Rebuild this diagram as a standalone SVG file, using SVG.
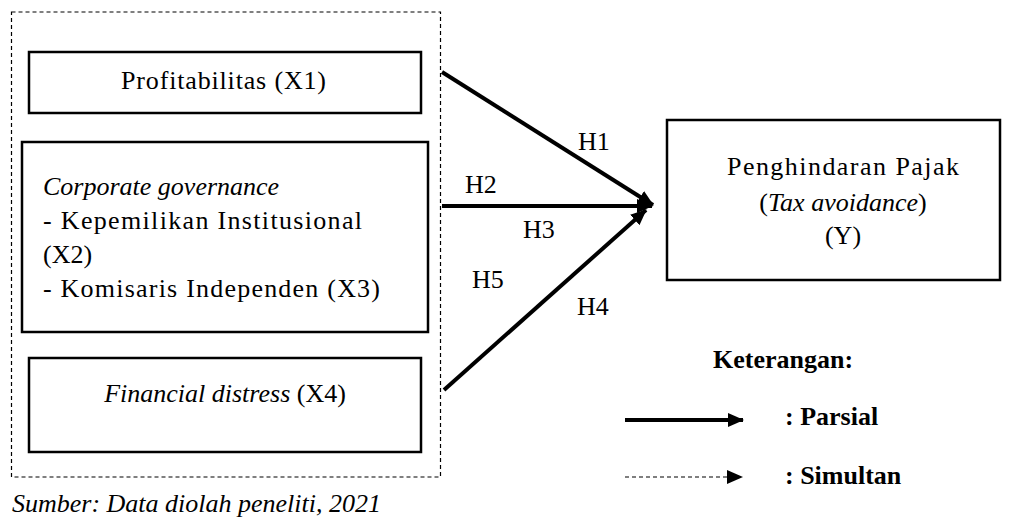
<svg xmlns="http://www.w3.org/2000/svg" width="1010" height="518" viewBox="0 0 1010 518">
<style>
text{font-family:"Liberation Serif","DejaVu Serif","Times New Roman",serif;font-size:26px;fill:#000}
.it{font-style:italic}
.b{font-weight:bold}
.box{fill:#fff;stroke:#000;stroke-width:2.5}
.arr{stroke:#000;stroke-width:4;fill:none}
.dash{stroke:#000;stroke-width:1.2;fill:none;stroke-dasharray:4 3}
</style>
<defs>
<marker id="ah" viewBox="0 0 16 14" refX="15" refY="7" markerWidth="16" markerHeight="14" markerUnits="userSpaceOnUse" orient="auto">
<path d="M0,0 L16,7 L0,14 z" fill="#000"/>
</marker>
</defs>
<rect id="outer" class="dash" x="11.5" y="12" width="429" height="465"/>
<g id="connectors">
<line class="arr" x1="442" y1="72" x2="653" y2="205" marker-end="url(#ah)"/>
<line class="arr" x1="442" y1="206" x2="652" y2="206" marker-end="url(#ah)"/>
<line class="arr" x1="444" y1="390" x2="646" y2="210" marker-end="url(#ah)"/>
<text x="578" y="150">H1</text>
<text x="465" y="193">H2</text>
<text x="523" y="238">H3</text>
<text x="472" y="288">H5</text>
<text x="577" y="315">H4</text>
</g>
<g id="x1">
<rect class="box" x="29" y="52" width="392" height="61"/>
<text x="121" y="89" textLength="205" lengthAdjust="spacing">Profitabilitas (X1)</text>
</g>
<g id="x2x3">
<rect class="box" x="22" y="142" width="406" height="190"/>
<text class="it" x="43" y="195">Corporate governance</text>
<text x="43" y="229" textLength="319" lengthAdjust="spacing">- Kepemilikan Institusional</text>
<text x="43" y="263">(X2)</text>
<text x="43" y="297" textLength="337" lengthAdjust="spacing">- Komisaris Independen (X3)</text>
</g>
<g id="x4">
<rect class="box" x="29" y="358" width="392" height="94"/>
<text x="225" y="402" text-anchor="middle"><tspan class="it">Financial distress</tspan> (X4)</text>
</g>
<g id="y">
<rect class="box" x="667" y="120" width="333" height="160"/>
<text x="727" y="175" textLength="232" lengthAdjust="spacing">Penghindaran Pajak</text>
<text x="843" y="211" text-anchor="middle">(<tspan class="it">Tax avoidance</tspan>)</text>
<text x="843" y="244" text-anchor="middle">(Y)</text>
</g>
<g id="legend">
<text class="b" x="713" y="368">Keterangan:</text>
<line x1="625" y1="420" x2="743" y2="420" stroke="#000" stroke-width="4" marker-end="url(#ah)"/>
<text class="b" x="785" y="425">: Parsial</text>
<line x1="625" y1="477" x2="729" y2="477" stroke="#000" stroke-width="1.2" stroke-dasharray="4 3"/>
<path d="M727,470 L743,477 L727,484 z" fill="#000"/>
<text class="b" x="785" y="484">: Simultan</text>
</g>
<text class="it" x="12" y="512">Sumber: Data diolah peneliti, 2021</text>
</svg>
